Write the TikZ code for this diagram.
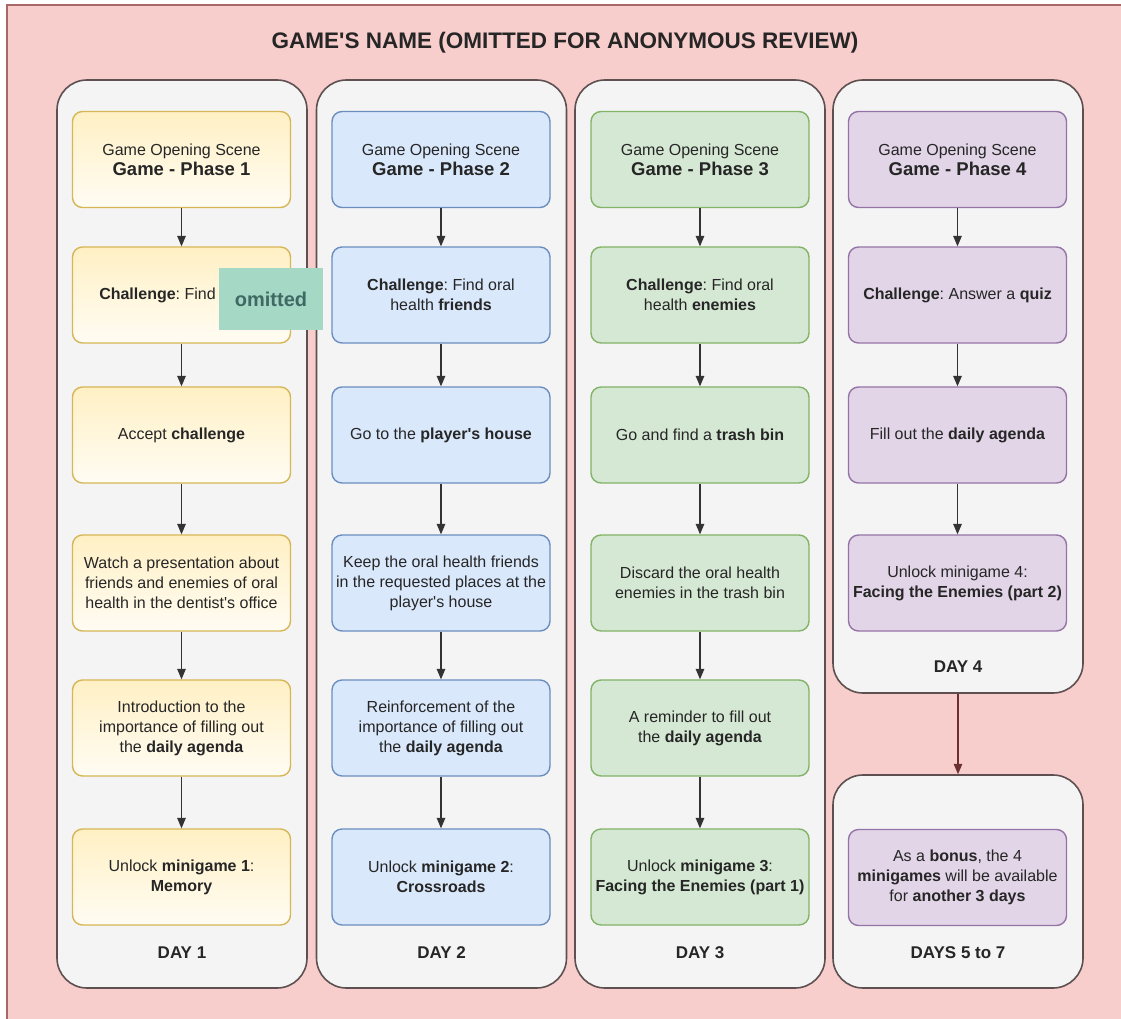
\documentclass[tikz,border=0pt]{standalone}
\usepackage{fontspec}
\setmainfont{Liberation Sans}
\usetikzlibrary{arrows}
\frenchspacing

\definecolor{bgpink}{HTML}{F8CECC}
\definecolor{bgline}{HTML}{A86868}
\definecolor{dayfill}{HTML}{F4F4F4}
\definecolor{dayline}{HTML}{5E5050}
\definecolor{yfill}{HTML}{FFF0C4}
\definecolor{yline}{HTML}{D6B656}
\definecolor{bfill}{HTML}{DAE8FC}
\definecolor{bline}{HTML}{6C8EBF}
\definecolor{gfill}{HTML}{D5E8D4}
\definecolor{gline}{HTML}{82B366}
\definecolor{pfill}{HTML}{E1D5E7}
\definecolor{pline}{HTML}{9673A6}
\definecolor{omitfill}{HTML}{A6D8C6}
\definecolor{omittext}{HTML}{3F6A64}
\definecolor{linkred}{HTML}{6B3030}

\tikzset{
  daybox/.style={draw=dayline, line width=1.6pt, rounded corners=30pt, fill=dayfill, minimum width=250pt},
  stepbox/.style={rounded corners=10pt, line width=1.4pt, minimum width=218pt, minimum height=96pt,
    align=center, font=\fontsize{16}{20}\selectfont, text=black!85},
  yel/.style={stepbox, draw=yline, top color=yfill, bottom color=yfill!20},
  blu/.style={stepbox, draw=bline, fill=bfill},
  gre/.style={stepbox, draw=gline, fill=gfill},
  pur/.style={stepbox, draw=pline, fill=pfill},
  daylabel/.style={font=\fontsize{17}{20}\selectfont\bfseries, text=black!85},
  flow/.style={->, >=triangle 45, line width=1.4pt, draw=black!80},
}
\newcommand{\phaseof}[1]{Game Opening Scene\\{\fontsize{18.5}{20}\selectfont\bfseries Game - Phase #1}}
\newcommand{\qt}{\textquotesingle}

\begin{document}
\begin{tikzpicture}[x=1pt,y=-1pt]
    \clip (0,0) rectangle (1121,1019);
    \fill[white] (0,0) rectangle (1121,1019);
    \draw[bgline, line width=1.5pt, fill=bgpink] (7,5) rectangle (1140,1040);
    \node[font=\fontsize{22.5}{26}\selectfont\bfseries, text=black!85] (title) at (565,43)
        {GAME\qt S NAME (OMITTED FOR ANONYMOUS REVIEW)};

    % day containers
    \node[daybox, minimum height=908pt] (day1) at (182,534) {};
    \node[daybox, minimum height=908pt] (day2) at (441.5,534) {};
    \node[daybox, minimum height=908pt] (day3) at (700,534) {};
    \node[daybox, minimum height=613pt] (day4) at (958,386.5) {};
    \node[daybox, minimum height=213pt] (day5) at (958,881.5) {};
    \node[daylabel] (lab1) at (182,953) {DAY 1};
    \node[daylabel] (lab2) at (441.5,953) {DAY 2};
    \node[daylabel] (lab3) at (700,953) {DAY 3};
    \node[daylabel] (lab4) at (958,667) {DAY 4};
    \node[daylabel] (lab5) at (958,953) {DAYS 5 to 7};

    % day 1
    \node[yel] (s1-1) at (181.5,159.5) {\phaseof{1}};
    \node[yel] (s1-2) at (181.5,295) {\textbf{Challenge}: Find\hspace*{48pt}};
    \node[yel] (s1-3) at (181.5,435) {Accept \textbf{challenge}};
    \node[yel] (s1-4) at (181.5,583) {Watch a presentation about\\friends and enemies of oral\\health in the dentist\qt s office};
    \node[yel] (s1-5) at (181.5,728) {Introduction to the\\importance of filling out\\the \textbf{daily agenda}};
    \node[yel] (s1-6) at (181.5,877) {Unlock \textbf{minigame 1}:\\\textbf{Memory}};

    % day 2
    \node[blu] (s2-1) at (441,159.5) {\phaseof{2}};
    \node[blu] (s2-2) at (441,295) {\textbf{Challenge}: Find oral\\health \textbf{friends}};
    \node[blu] (s2-3) at (441,435) {Go to the \textbf{player\qt s house}};
    \node[blu] (s2-4) at (441,583) {Keep the oral health friends\\in the requested places at the\\player\qt s house};
    \node[blu] (s2-5) at (441,728) {Reinforcement of the\\importance of filling out\\the \textbf{daily agenda}};
    \node[blu] (s2-6) at (441,877) {Unlock \textbf{minigame 2}:\\\textbf{Crossroads}};

    % day 3
    \node[gre] (s3-1) at (700,159.5) {\phaseof{3}};
    \node[gre] (s3-2) at (700,295) {\textbf{Challenge}: Find oral\\health \textbf{enemies}};
    \node[gre] (s3-3) at (700,435) {Go and find a \textbf{trash bin}};
    \node[gre] (s3-4) at (700,583) {Discard the oral health\\enemies in the trash bin};
    \node[gre] (s3-5) at (700,728) {A reminder to fill out\\the \textbf{daily agenda}};
    \node[gre] (s3-6) at (700,877) {Unlock \textbf{minigame 3}:\\\textbf{Facing the Enemies (part 1)}};

    % day 4 and days 5 to 7
    \node[pur] (s4-1) at (957.5,159.5) {\phaseof{4}};
    \node[pur] (s4-2) at (957.5,295) {\textbf{Challenge}: Answer a \textbf{quiz}};
    \node[pur] (s4-3) at (957.5,435) {Fill out the \textbf{daily agenda}};
    \node[pur] (s4-4) at (957.5,583) {Unlock minigame 4:\\\textbf{Facing the Enemies (part 2)}};
    \node[pur] (s5-1) at (957.5,877.5) {As a \textbf{bonus}, the 4\\\textbf{minigames} will be available\\for \textbf{another 3 days}};

    \foreach \c in {1,2,3}
        \foreach \r/\s in {1/2,2/3,3/4,4/5,5/6}
            \draw[flow] (s\c-\r) -- (s\c-\s);
    \foreach \r/\s in {1/2,2/3,3/4}
        \draw[flow] (s4-\r) -- (s4-\s);
    \draw[flow, draw=linkred] (day4) -- (day5);

    \node[fill=omitfill, minimum width=104pt, minimum height=62pt,
        font=\fontsize{20}{22}\selectfont\bfseries, text=omittext] (omit) at (271,299) {omitted};
\end{tikzpicture}
\end{document}
